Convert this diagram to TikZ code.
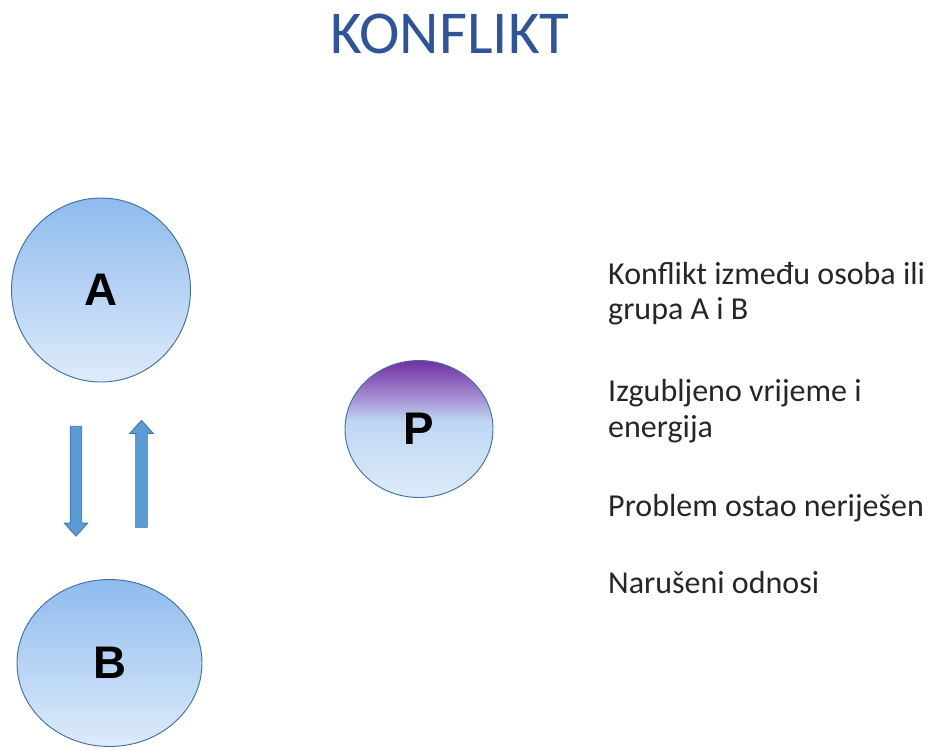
\documentclass[tikz,border=0pt]{standalone}
\usepackage{fontspec}
\setmainfont{Carlito}
\newfontfamily\letterfont{Liberation Sans}
\usepackage{tikz}
\usetikzlibrary{shapes,shapes.arrows}
\usetikzlibrary{arrows,positioning}
\definecolor{titleblue}{RGB}{47,85,151}
\definecolor{edgeblue}{RGB}{65,113,156}
\definecolor{arrowblue}{RGB}{91,155,213}
\definecolor{lighttop}{RGB}{143,187,238}
\definecolor{lightbottom}{RGB}{222,235,250}
\definecolor{midblue}{RGB}{190,214,243}
\definecolor{ppurple}{RGB}{112,48,160}
\definecolor{plilac}{RGB}{160,130,205}
\pgfdeclareverticalshading{pshade}{100bp}{color(0bp)=(lightbottom); color(25bp)=(lightbottom); color(53bp)=(midblue); color(63bp)=(plilac); color(75bp)=(ppurple); color(100bp)=(ppurple)}
\tikzstyle{party node}=[ellipse, draw=edgeblue, line width=0.8pt, inner sep=0pt, top color=lighttop, bottom color=lightbottom, font=\letterfont\bfseries\fontsize{39}{39}\selectfont]
\tikzstyle{third node}=[ellipse, draw=edgeblue, line width=0.8pt, inner sep=0pt, shading=pshade, font=\letterfont\bfseries\fontsize{39}{39}\selectfont]
\tikzstyle{block arrow}=[single arrow, draw=edgeblue, fill=arrowblue, line width=0.6pt, inner xsep=0pt, inner ysep=0.165cm, single arrow head extend=0.18cm, single arrow tip angle=84]
\tikzstyle{item text}=[anchor=base west, inner sep=0pt, text=black!85, font=\fontsize{27.3}{32}\selectfont]
\tikzstyle{title text}=[anchor=base, inner sep=0pt, text=titleblue, font=\fontsize{52}{52}\selectfont]

\begin{document}
\begin{tikzpicture}[x=0.03cm, y=-0.03cm]
  \useasboundingbox (0,0) rectangle (932,749);

  \node[title text] (title) at (450,53) {KONFLIKT};

  \node[party node, minimum width=5.37cm, minimum height=5.52cm] (A) at (101,290) {A};
  \node[party node, minimum width=5.55cm, minimum height=5.01cm] (B) at (109.5,663) {B};
  \node[third node, minimum width=4.44cm, minimum height=4.11cm] (P) at (419,429) {P};

  \node[block arrow, rotate=-90, minimum height=3.3cm] (AtoB) at (76,478) {};
  \node[block arrow, rotate=90, minimum height=3.21cm] (BtoA) at (141.5,477) {};

  \node[item text] (conflict1) at (608,284) {Konflikt između osoba ili};
  \node[item text] (conflict2) at (608,319) {grupa A i B};
  \node[item text] (time1) at (608,401) {Izgubljeno vrijeme i};
  \node[item text] (time2) at (608,437) {energija};
  \node[item text] (problem) at (608,516) {Problem ostao neriješen};
  \node[item text] (relations) at (608,593) {Narušeni odnosi};

\end{tikzpicture}
\end{document}
